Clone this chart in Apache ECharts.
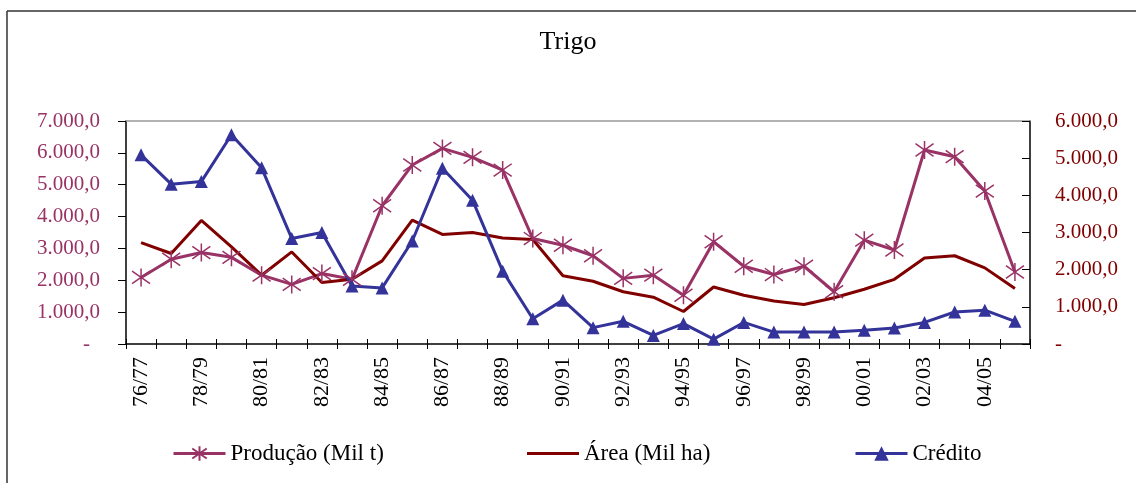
<!DOCTYPE html>
<html>
<head>
<meta charset="utf-8">
<script src="https://cdn.jsdelivr.net/npm/echarts@6/dist/echarts.min.js"></script>
<style>
html,body{margin:0;padding:0;background:#fff;}
#chart{width:1136px;height:483px;}
</style>
</head>
<body>
<div id="chart"></div>
<script>
const categories = ['76/77','77/78','78/79','79/80','80/81','81/82','82/83','83/84','84/85','85/86',
  '86/87','87/88','88/89','89/90','90/91','91/92','92/93','93/94','94/95','95/96',
  '96/97','97/98','98/99','99/00','00/01','01/02','02/03','03/04','04/05','05/06'];
const producao = [2090,2660,2870,2720,2160,1870,2210,2030,4340,5620,6140,5860,5460,3310,3100,2770,2060,2160,1530,3210,2440,2180,2440,1640,3260,2950,6090,5880,4800,2260];
const area = [3180,2840,3880,3050,2160,2890,1930,2030,2610,3890,3440,3500,3330,3280,2140,1970,1640,1470,1020,1790,1530,1350,1240,1450,1720,2030,2700,2770,2390,1740];
const credito = [5090,4300,4370,5630,4740,2840,3000,1560,1510,2770,4730,3870,1960,680,1180,440,610,230,550,130,580,320,320,320,370,430,580,860,910,610];
const seriesNames = ['Produção (Mil t)','Área (Mil ha)','Crédito'];
const titleText = 'Trigo';

const FONT = '"Liberation Serif","Times New Roman",serif';
const C_PROD = '#993366', C_AREA = '#800000', C_CRED = '#333399';
const starPath = 'path://M10,0L10,20M1,3L19,17M1,17L19,3';

function fmt(v){
  if (v === 0) return '{z|-}';
  const th = Math.floor(v/1000), r = v % 1000;
  return th + '.' + String(r).padStart(3,'0') + ',0';
}

const chart = echarts.init(document.getElementById('chart'), null, {renderer:'canvas'});
const legendBase = {
  orient:'horizontal', top:437, itemWidth:52, itemHeight:18, itemGap:10,
  lineStyle:{width:3},
  textStyle:{fontFamily:FONT, fontSize:23, color:'#000'}
};
chart.setOption({
  animation:false,
  backgroundColor:'#fff',
  title:{text:titleText, left:'center', top:24, textStyle:{fontFamily:FONT, fontSize:26, fontWeight:'normal', color:'#000'}},
  legend:[
    Object.assign({}, legendBase, {left:167, data:[seriesNames[0]]}),
    Object.assign({}, legendBase, {left:522, itemHeight:3, data:[{name:seriesNames[1], icon:'rect'}]}),
    Object.assign({}, legendBase, {left:849, data:[seriesNames[2]]})
  ],
  grid:{left:126, right:106, top:121, bottom:139, containLabel:false},
  xAxis:[
    {type:'category', data:categories, position:'bottom', boundaryGap:true,
     axisLine:{lineStyle:{color:'#000', width:1.5}},
     axisTick:{show:true, inside:false, length:5, interval:0, lineStyle:{color:'#000'}},
     axisLabel:{interval:1, rotate:90, margin:13, fontFamily:FONT, fontSize:22, color:'#000'},
     splitLine:{show:false}},
    {type:'category', data:categories, position:'bottom', boundaryGap:true,
     axisLine:{show:false},
     axisTick:{show:true, inside:true, length:5, interval:0, lineStyle:{color:'#000'}},
     axisLabel:{show:false}, splitLine:{show:false}},
    {type:'category', data:categories, position:'top', boundaryGap:true,
     axisLine:{show:true, lineStyle:{color:'#999', width:1.5}},
     axisTick:{show:false}, axisLabel:{show:false}, splitLine:{show:false}}
  ],
  yAxis:[
    {type:'value', min:0, max:7000, interval:1000, position:'left',
     axisLine:{show:true, lineStyle:{color:'#000', width:1.5}},
     axisTick:{show:true, inside:false, length:8, lineStyle:{color:'#000'}},
     axisLabel:{margin:26, formatter:fmt, fontFamily:FONT, fontSize:21, color:C_PROD,
       rich:{z:{fontFamily:FONT, fontSize:21, color:C_PROD, padding:[0,10,0,0]}}},
     splitLine:{show:false}},
    {type:'value', min:0, max:6000, interval:1000, position:'right',
     axisLine:{show:true, lineStyle:{color:'#000', width:1.5}},
     axisTick:{show:true, inside:true, length:8, lineStyle:{color:'#000'}},
     axisLabel:{margin:25, formatter:fmt, fontFamily:FONT, fontSize:21, color:C_AREA,
       rich:{z:{fontFamily:FONT, fontSize:21, color:C_AREA}}},
     splitLine:{show:false}}
  ],
  series:[
    {name:seriesNames[0], type:'line', xAxisIndex:0, yAxisIndex:0, data:producao,
     color:C_PROD, symbol:starPath, symbolSize:18, showSymbol:true,
     lineStyle:{color:C_PROD, width:3},
     itemStyle:{color:C_PROD, borderColor:C_PROD, borderWidth:1.5}},
    {name:seriesNames[1], type:'line', xAxisIndex:0, yAxisIndex:0, data:area,
     color:C_AREA, symbol:'none', showSymbol:false,
     lineStyle:{color:C_AREA, width:3}, itemStyle:{color:C_AREA}},
    {name:seriesNames[2], type:'line', xAxisIndex:0, yAxisIndex:1, data:credito,
     color:C_CRED, symbol:'triangle', symbolSize:13,
     lineStyle:{color:C_CRED, width:3},
     itemStyle:{color:C_CRED}}
  ],
  graphic:[
    {type:'line', shape:{x1:7, y1:11, x2:1136, y2:11}, style:{stroke:'#333', lineWidth:1.5}},
    {type:'line', shape:{x1:7, y1:11, x2:7, y2:483}, style:{stroke:'#333', lineWidth:1.5}}
  ]
});
</script>
</body>
</html>
